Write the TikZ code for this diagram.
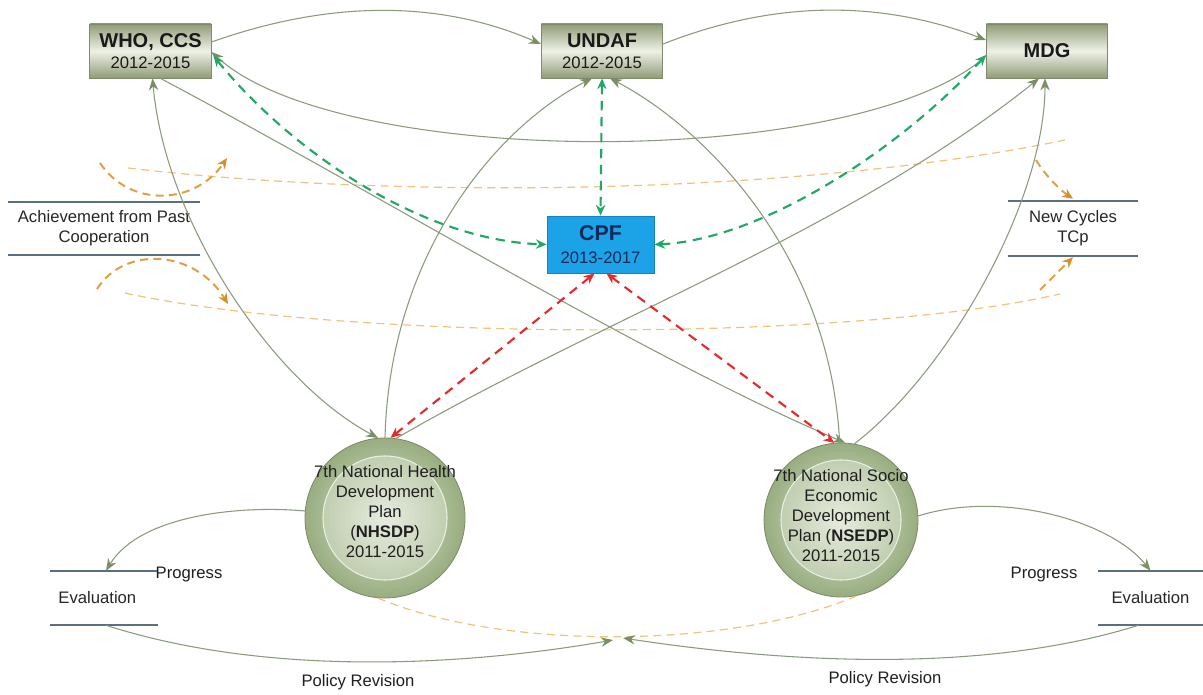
\documentclass[tikz,border=0pt]{standalone}
\usepackage{fontspec}
\setmainfont{Liberation Sans}
\usetikzlibrary{arrows.meta,calc}
\definecolor{lk}{HTML}{8A9A7C}
\definecolor{ah}{HTML}{7A9064}
\definecolor{gd}{HTML}{22A866}
\definecolor{rd}{HTML}{E42A2A}
\definecolor{ogl}{HTML}{F0C27E}
\definecolor{ogd}{HTML}{D98E2A}
\definecolor{cpfc}{HTML}{1CA2E6}
\definecolor{cpft}{HTML}{14295A}
\definecolor{dsl}{HTML}{5C6F7E}
\definecolor{boxd}{HTML}{909C78}
\definecolor{boxl}{HTML}{EEF1E6}
\definecolor{boxb}{HTML}{7E8A6A}
\definecolor{cirD}{HTML}{98AD80}
\definecolor{cirL}{HTML}{DCE4D0}
\newcommand\ttlfont{\fontsize{15}{16.5}\selectfont\bfseries}
\begin{document}
\begin{tikzpicture}[x=0.75pt,y=-0.75pt,
  box/.style={draw=boxb, line width=0.6pt, top color=boxd, bottom color=boxd, middle color=boxl,
    minimum width=91pt, minimum height=40.5pt, align=center, inner sep=1pt, text=black!90,
    font=\fontsize{12.5}{16}\selectfont},
  circ/.style={circle, draw=cirD!80!black, line width=0.6pt, inner color=cirL, outer color=cirD,
    align=center, inner sep=0pt},
  icirc/.style={circle, draw=cirL!60!white, line width=0.8pt, inner color=cirL!70!white, outer color=cirL!60!cirD,
    inner sep=0pt},
  store/.style={align=center, inner sep=0pt, font=\fontsize{12.5}{15}\selectfont, text=black!85},
  sline/.style={draw=dsl, line width=1.6pt},
  lbl/.style={font=\fontsize{12.5}{15}\selectfont, text=black!88, inner sep=1pt},
  lnk/.style={draw=lk, line width=0.8pt},
  tip/.style={-{Stealth[length=9pt,width=7pt,color=ah]}},
  tipb/.style={{Stealth[length=9pt,width=7pt,color=ah]}-{Stealth[length=9pt,width=7pt,color=ah]}},
  gdash/.style={draw=gd, line width=1.6pt, dash pattern=on 7pt off 5pt,
    {Stealth[length=8pt,width=7pt]}-{Stealth[length=8pt,width=7pt]}},
  rdash/.style={draw=rd, line width=1.6pt, dash pattern=on 7pt off 5pt,
    {Stealth[length=8pt,width=7pt]}-{Stealth[length=8pt,width=7pt]}},
  odl/.style={draw=ogl, line width=0.9pt, dash pattern=on 6pt off 4pt},
  oda/.style={draw=ogd!85, line width=1.5pt, dash pattern=on 6pt off 4pt, -{Stealth[length=8pt,width=7pt,color=ogd]}}
]
\useasboundingbox (0,0) rectangle (1203,695);

% boxes
\node[box] (who) at (150.5,51) {{\ttlfont WHO, CCS}\\2012-2015};
\node[box] (undaf) at (602,51) {{\ttlfont UNDAF}\\2012-2015};
\node[box] (mdg) at (1047,51) {{\ttlfont MDG}};
\node[draw=cpfc!80!black, line width=0.6pt, fill=cpfc, minimum width=80.25pt, minimum height=42.75pt,
  align=center, inner sep=1pt, text=cpft, font=\fontsize{12.5}{17}\selectfont] (cpf) at (600.5,244.5)
  {{\fontsize{16}{17}\selectfont\bfseries CPF}\\2013-2017};

% circles
\node[circ, minimum size=120pt] (nh) at (385,518) {};
\node[icirc, minimum size=93pt] (nhI) at (nh.center) {};
\node[lbl, align=center] (nhT) at (385,512) {7th National Health\\Development\\Plan\\(\textbf{NHSDP})\\2011-2015};
\node[circ, minimum size=115.5pt] (ns) at (841,520) {};
\node[icirc, minimum size=90pt] (nsI) at (ns.center) {};
\node[lbl, align=center] (nsT) at (841,516) {7th National Socio\\Economic\\Development\\Plan (\textbf{NSEDP})\\2011-2015};

% data stores
\node[store, minimum width=144pt, minimum height=39.75pt] (ach) at (104,228.5) {Achievement from Past\\Cooperation};
\node[store, minimum width=97.5pt, minimum height=41.25pt] (nc) at (1073,228.5) {New Cycles\\TCp};
\node[store, minimum width=81pt, minimum height=40.5pt] (evL) at (104,598) {\hspace*{-10pt}Evaluation};
\node[store, minimum width=78.75pt, minimum height=40.5pt] (evR) at (1150.5,598) {Evaluation};
\foreach \n in {ach,nc,evL,evR}{
  \draw[sline] (\n.north west) -- (\n.north east);
  \draw[sline] (\n.south west) -- (\n.south east);
}

% labels
\node[lbl] (progL) at (189,574) {Progress};
\node[lbl] (progR) at (1044,574) {Progress};
\node[lbl] (polL) at (358,682) {Policy Revision};
\node[lbl] (polR) at (885,679) {Policy Revision};

% meeting points
\coordinate (mL) at (613,640);
\coordinate (mR) at (623,638);

% long orange dashed lines
\draw[odl] (128,168) .. controls (400,200) and (800,195) .. (1065,140);
\draw[odl] (125,293) .. controls (350,342) and (850,342) .. (1060,294);
\draw[odl] (nh.-95) .. controls (500,650) and (730,650) .. (ns.-78);

% small orange arrows
\coordinate (o1a) at (100,163); \coordinate (o1b) at (227,158);
\coordinate (o2a) at (97,289);  \coordinate (o2b) at (228,304);
\coordinate (o3a) at (1036,160); \coordinate (o4a) at (1040,290);
\draw[oda] (o1a) .. controls (130,208) and (195,205) .. (o1b);
\draw[oda] (o2a) .. controls (125,245) and (195,250) .. (o2b);
\draw[oda] (o3a) .. controls (1045,175) and (1060,190) .. ($(nc.north)+(0,-2)$);
\draw[oda] (o4a) .. controls (1052,278) and (1062,268) .. ($(nc.south)+(0,1)$);

% grey connectors
\draw[lnk,tip] ($(who.east)+(0,-9)$) .. controls (330,0) and (440,0) .. ($(undaf.west)+(0,-7)$);
\draw[lnk,tip] ($(undaf.east)+(0,-7)$) .. controls (775,0) and (880,0) .. ($(mdg.west)+(0,-11)$);
\draw[lnk,tip] ($(mdg.west)+(0,5)$) .. controls (860,170) and (340,170) .. ($(who.east)+(0,1)$);
\draw[lnk,tipb] ($(who.south)+(2,0)$) .. controls (165,220) and (270,380) .. (nh.95);
\draw[lnk,tip] ($(who.south)+(10,0)$) .. controls (380,195) and (650,360) .. (ns.87);
\draw[lnk,tip] (nh.90) .. controls (390,250) and (500,125) .. ($(undaf.south)+(-10,0)$);
\draw[lnk,tip] (ns.91) .. controls (830,250) and (700,125) .. ($(undaf.south)+(8,0)$);
\draw[lnk,tip] (nh.82) .. controls (600,320) and (850,230) .. ($(mdg.south)+(-8,0)$);
\draw[lnk,tip] (ns.80) .. controls (950,370) and (1045,200) .. ($(mdg.south)+(-2,0)$);
\draw[lnk,tip] (nh.175) .. controls (240,505) and (140,515) .. ($(evL.north)+(2,0)$);
\draw[lnk,tip] (ns.3) .. controls (1000,490) and (1110,520) .. ($(evR.north)+(0,0)$);
\draw[lnk,tip] ($(evL.south)+(2,0)$) .. controls (270,678) and (470,665) .. (mL);
\draw[lnk,tip] ($(evR.south)+(-12,0)$) .. controls (980,675) and (780,662) .. (mR);

% green dashed
\draw[gdash] ($(who.east)+(2,5)$) .. controls (290,150) and (420,240) .. (cpf.west);
\draw[gdash] (undaf.south) -- (cpf.north);
\draw[gdash] ($(mdg.west)+(0,4)$) .. controls (900,150) and (760,240) .. (cpf.east);

% red dashed
\draw[rdash] ($(cpf.south)+(-6,0)$) -- (nh.86);
\draw[rdash] ($(cpf.south)+(6,0)$) -- (ns.95);
\end{tikzpicture}
\end{document}
